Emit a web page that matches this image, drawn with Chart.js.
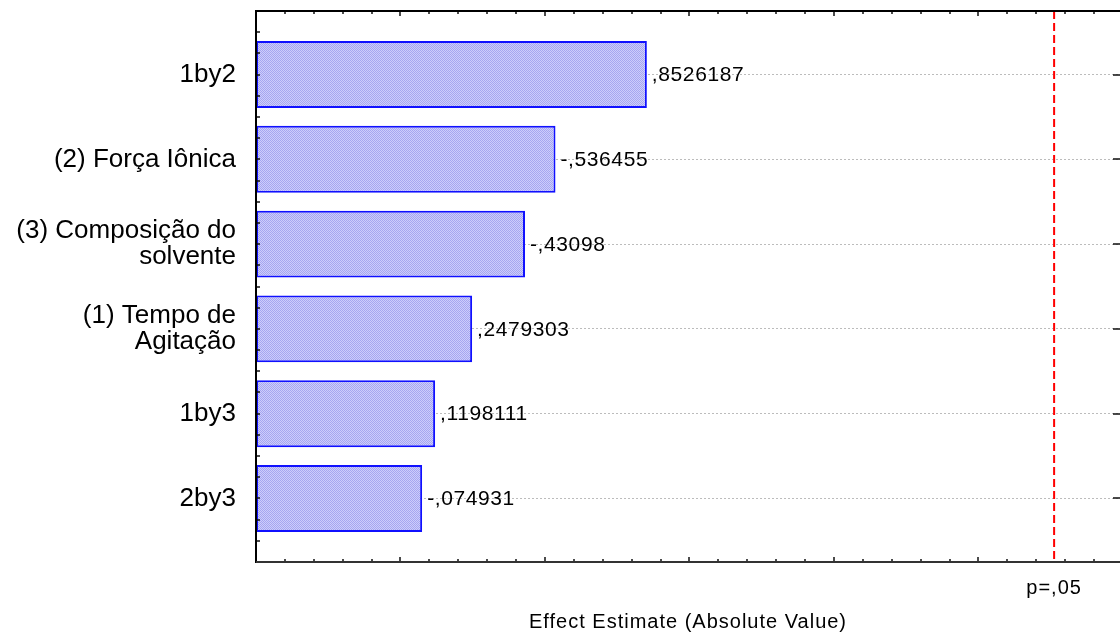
<!DOCTYPE html>
<html>
<head>
<meta charset="utf-8">
<title>Pareto Chart of Standardized Effects</title>
<script src="https://cdn.jsdelivr.net/npm/chart.js@4.4.1/dist/chart.umd.min.js"></script>
<style>
  html, body { margin: 0; padding: 0; background: #ffffff; }
  #wrap { width: 1120px; height: 634px; }
</style>
</head>
<body>
<div id="wrap"><canvas id="pareto" width="1120" height="634"></canvas></div>
<script>
// Effects, in Pareto order (largest first)
const effects = [
  ['1by2'],
  ['(2) Força Iônica'],
  ['(3) Composição do', 'solvente'],
  ['(1) Tempo de', 'Agitação'],
  ['1by3'],
  ['2by3']
];
// Signed effect estimates; bar length is the absolute value
const estimates = [0.8526187, -0.536455, -0.43098, 0.2479303, 0.1198111, -0.074931];
// Critical value for p = .05
const criticalValue = 2.262;
const criticalLabel = 'p=,05';
const axisTitle = 'Effect Estimate (Absolute Value)';

// Axis ranges and tick steps
const xRange = [-0.5, 2.49];
const xMinorStep = 0.1;
const xMajorEvery = 5;
const yRange = [-0.75, 5.75];
const yMinorStep = 0.25;

const FONT = 'Arial, "Liberation Sans", sans-serif';

// ",8526187" / "-,536455" style number format
function fmt(v) {
  const s = String(Math.abs(v)).replace(/^0\./, ',');
  return (v < 0 ? '-' : '') + s;
}

// Fine lavender texture for the bars
function makeTexture() {
  const c = document.createElement('canvas');
  c.width = 2; c.height = 2;
  const g = c.getContext('2d');
  g.fillStyle = '#cdcdfb';
  g.fillRect(0, 0, 2, 2);
  g.fillStyle = '#a6a6f0';
  g.fillRect(0, 0, 1, 1);
  g.fillRect(1, 1, 1, 1);
  return g.createPattern(c, 'repeat');
}

const textSpacing = {
  id: 'textSpacing',
  beforeDraw(chart) {
    chart.ctx.letterSpacing = '0px';
  }
};

const valueLabels = {
  id: 'valueLabels',
  afterDatasetsDraw(chart) {
    const ctx = chart.ctx;
    const meta = chart.getDatasetMeta(0);
    ctx.save();
    ctx.letterSpacing = '0.6px';
    ctx.font = '21px ' + FONT;
    ctx.fillStyle = '#000';
    ctx.textAlign = 'left';
    ctx.textBaseline = 'middle';
    meta.data.forEach((bar, i) => {
      ctx.fillText(fmt(estimates[i]), bar.x + 5, bar.y + 1);
    });
    ctx.restore();
    // the x-axis title layer is drawn after the datasets
    ctx.letterSpacing = '1px';
  }
};

const frame = {
  id: 'frame',
  afterDraw(chart) {
    const { ctx, chartArea: a, scales: { x, y } } = chart;
    ctx.save();

    // critical value reference line
    const cx = x.getPixelForValue(criticalValue);
    ctx.strokeStyle = '#ff0000';
    ctx.lineWidth = 2;
    ctx.setLineDash([8, 4]);
    ctx.beginPath();
    ctx.moveTo(cx, a.top);
    ctx.lineTo(cx, a.bottom);
    ctx.stroke();
    ctx.setLineDash([]);

    ctx.fillStyle = '#000';
    ctx.font = '20px ' + FONT;
    ctx.letterSpacing = '1px';
    ctx.textAlign = 'center';
    ctx.textBaseline = 'alphabetic';
    ctx.fillText(criticalLabel, cx, a.bottom + 32);

    // inward tick marks
    ctx.strokeStyle = '#111';
    ctx.lineWidth = 1.5;
    ctx.beginPath();
    const nx = Math.floor((xRange[1] - xRange[0]) / xMinorStep + 1e-6);
    for (let k = 0; k <= nx; k++) {
      const px = Math.round(x.getPixelForValue(xRange[0] + k * xMinorStep));
      const len = (k % xMajorEvery === 0) ? 5 : 3;
      ctx.moveTo(px, a.bottom); ctx.lineTo(px, a.bottom - len);
      ctx.moveTo(px, a.top); ctx.lineTo(px, a.top + len);
    }
    const ny = Math.round((yRange[1] - yRange[0]) / yMinorStep);
    for (let k = 0; k <= ny; k++) {
      const v = yRange[0] + k * yMinorStep;
      const py = Math.round(y.getPixelForValue(v));
      ctx.moveTo(a.left, py); ctx.lineTo(a.left + 4, py);
      if (Math.abs(v - Math.round(v)) < 1e-6) {
        ctx.moveTo(a.right, py); ctx.lineTo(a.right - 7, py);
      }
    }
    ctx.stroke();

    // plot frame
    ctx.lineWidth = 2;
    ctx.strokeStyle = '#000';
    ctx.beginPath();
    ctx.moveTo(a.left, a.top - 1); ctx.lineTo(a.left, a.bottom + 1);
    ctx.moveTo(a.left, a.top); ctx.lineTo(a.right, a.top);
    ctx.stroke();
    ctx.strokeStyle = '#333';
    ctx.beginPath();
    ctx.moveTo(a.left, a.bottom); ctx.lineTo(a.right, a.bottom);
    ctx.stroke();
    ctx.restore();
  }
};

new Chart(document.getElementById('pareto'), {
  type: 'bar',
  data: {
    datasets: [{
      data: estimates.map((v, i) => ({ x: Math.abs(v), y: i })),
      base: xRange[0],
      backgroundColor: makeTexture(),
      borderColor: '#1010ff',
      borderWidth: 2,
      borderSkipped: false,
      barPercentage: 0.79,
      categoryPercentage: 1
    }]
  },
  options: {
    indexAxis: 'y',
    responsive: false,
    animation: false,
    events: [],
    layout: { padding: { top: 11, right: 0, bottom: 0, left: 0 } },
    plugins: {
      legend: { display: false },
      tooltip: { enabled: false }
    },
    scales: {
      x: {
        type: 'linear',
        min: xRange[0],
        max: xRange[1],
        ticks: { display: false },
        grid: { display: false, drawTicks: false, z: 1 },
        border: { display: false },
        title: {
          display: true,
          text: axisTitle,
          color: '#000',
          font: { family: FONT, size: 20 },
          padding: { top: 0, bottom: 0 }
        },
        afterFit(scale) {
          scale.height = 72;
          scale.paddingLeft = 0;
          scale.paddingRight = 0;
        }
      },
      y: {
        type: 'linear',
        reverse: true,
        offset: false,
        min: yRange[0],
        max: yRange[1],
        afterBuildTicks(scale) {
          scale.ticks = effects.map((_, i) => ({ value: i }));
        },
        ticks: {
          callback: (v) => effects[v],
          color: '#000',
          font: { family: FONT, size: 26, lineHeight: 1.0 },
          padding: 20
        },
        grid: { color: '#bcbcbc', lineWidth: 1, drawTicks: false, offset: false },
        border: { display: false, dash: [2, 2] },
        afterFit(scale) {
          scale.width = 256;
          scale.paddingTop = 0;
          scale.paddingBottom = 0;
        }
      }
    }
  },
  plugins: [textSpacing, valueLabels, frame]
});
</script>
</body>
</html>
